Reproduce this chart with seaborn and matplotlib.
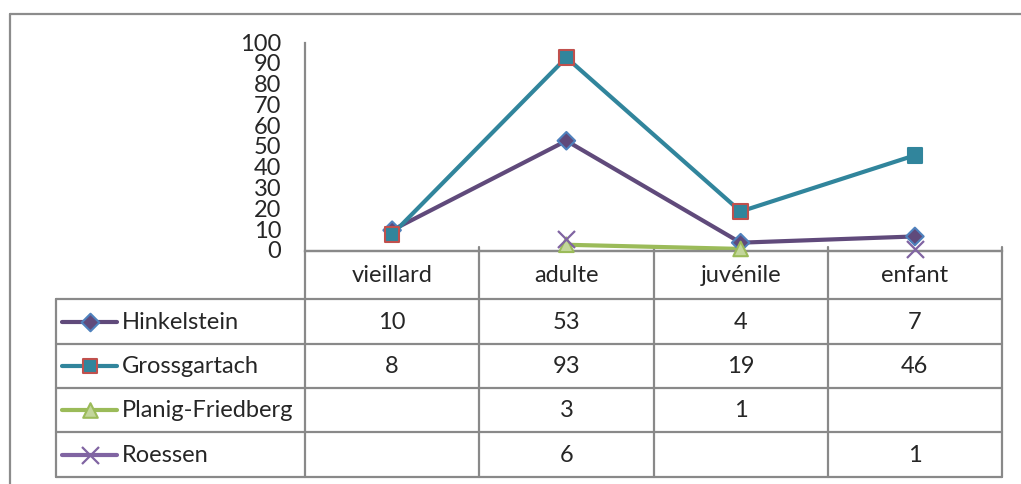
import numpy as np
import pandas as pd
import matplotlib
matplotlib.use("Agg")
import matplotlib.pyplot as plt
from matplotlib.lines import Line2D
import seaborn as sns

# data
categories = ["vieillard", "adulte", "juvénile", "enfant"]
hinkelstein = [10, 53, 4, 7]
grossgartach = [8, 93, 19, 46]
planig = [np.nan, 3, 1, np.nan]
roessen = [np.nan, 6, np.nan, 1]

series_names = ["Hinkelstein", "Grossgartach", "Planig-Friedberg", "Roessen"]
series_vals = [hinkelstein, grossgartach, planig, roessen]

# styling per series
line_colors = ["#604A7B", "#31859C", "#9BBB59", "#8064A2"]
markers = ["D", "s", "^", "x"]
face_colors = ["#604A7B", "#31859C", "#C3D69B", "#8064A2"]
edge_colors = [
    ["#4F81BD"] * 4,
    ["#C0504D", "#C0504D", "#C0504D", "#31859C"],
    ["#9BBB59"] * 4,
    ["#8064A2"] * 4,
]
draw_line = [True, True, True, False]
marker_sizes = [80, 110, 110, 150]

sns.set_style("white")
plt.rcParams["font.family"] = ["Lato", "DejaVu Sans"]
FS = 17
LW = 3.0
GRID = "#898989"

W, H = 1021, 485
fig = plt.figure(figsize=(W / 100, H / 100), dpi=100)

# pixel layout
ax_l, ax_r, ax_top, ax_bot = 305, 1002, 44, 252
tab_l = 56
row_edges = [252, 300, 345, 389, 433, 478]

ax = fig.add_axes([ax_l / W, 1 - ax_bot / H, (ax_r - ax_l) / W, (ax_bot - ax_top) / H])
ax.set_facecolor("none")
ax.set_zorder(3)

x_idx = np.arange(len(categories))
for name, vals, lc, mk, fc, ec, dl, ms in zip(series_names, series_vals, line_colors,
                                               markers, face_colors, edge_colors,
                                               draw_line, marker_sizes):
    df = pd.DataFrame({"x": x_idx, "y": vals})
    if dl:
        # draw contiguous runs only (Excel leaves gaps)
        run_id = df["y"].isna().cumsum()
        for _, run in df[df["y"].notna()].groupby(run_id[df["y"].notna()]):
            if len(run) > 1:
                sns.lineplot(data=run, x="x", y="y", ax=ax, color=lc, linewidth=LW,
                             sort=False, legend=False)
    ok = df["y"].notna().values
    if mk == "x":
        ax.scatter(df["x"][ok], df["y"][ok], marker="x", s=ms, c=fc, linewidths=1.6, zorder=4)
    else:
        ax.scatter(df["x"][ok], df["y"][ok], marker=mk, s=ms, c=fc,
                   edgecolors=np.array(ec)[ok], linewidths=1.5, zorder=4)

ax.set_xlim(-0.5, len(categories) - 0.5)
ax.set_ylim(0, 100)
ax.set_yticks(range(0, 101, 10))
ax.set_xticks([])
ax.set_xlabel("")
ax.set_ylabel("")
ax.tick_params(axis="y", length=0, pad=17, labelsize=FS)
for lbl in ax.get_yticklabels():
    lbl.set_verticalalignment("center")
for s in ["top", "right"]:
    ax.spines[s].set_visible(False)
for s in ["left", "bottom"]:
    ax.spines[s].set_color(GRID)
    ax.spines[s].set_linewidth(1.6)
ax.margins(0)
for l in ax.get_lines():
    l.set_clip_on(False)
for c in ax.collections:
    c.set_clip_on(False)

# overlay in pixel coordinates for frame and data table
ov = fig.add_axes([0, 0, 1, 1])
ov.set_xlim(0, W)
ov.set_ylim(H, 0)
ov.axis("off")
ov.set_zorder(1)

# outer chart frame
ov.plot([10, 10], [15, H], color="#8C8C8C", lw=1.6)
ov.plot([10, W], [15, 15], color="#8C8C8C", lw=1.6)

col_w = (ax_r - ax_l) / len(categories)
col_edges = [ax_l + i * col_w for i in range(len(categories) + 1)]

# horizontal table lines
for i, y in enumerate(row_edges):
    x0 = ax_l if i == 0 else tab_l
    ov.plot([x0, ax_r], [y, y], color=GRID, lw=1.6)
# vertical table lines
ov.plot([tab_l, tab_l], [row_edges[1], row_edges[-1]], color=GRID, lw=1.6)
for j, x in enumerate(col_edges):
    top = ax_bot if j == 0 else ax_bot - 4
    ov.plot([x, x], [top, row_edges[-1]], color=GRID, lw=1.6)

# header
for j, cat in enumerate(categories):
    ov.text(col_edges[j] + col_w / 2, (row_edges[0] + row_edges[1]) / 2, cat,
            ha="center", va="center", fontsize=FS)

# rows
for i, (name, vals) in enumerate(zip(series_names, series_vals)):
    yc = (row_edges[i + 1] + row_edges[i + 2]) / 2
    ov.add_line(Line2D([62, 117], [yc, yc], color=line_colors[i], lw=LW,
                       solid_capstyle="round"))
    if markers[i] == "x":
        ov.scatter([89.5], [yc], marker="x", s=marker_sizes[i], c=face_colors[i],
                   linewidths=1.6, zorder=4)
    else:
        ov.scatter([89.5], [yc], marker=markers[i], s=marker_sizes[i], c=face_colors[i],
                   edgecolors=edge_colors[i][0], linewidths=1.5, zorder=4)
    ov.text(122, yc, name, ha="left", va="center", fontsize=FS)
    for j, v in enumerate(vals):
        if not np.isnan(v):
            ov.text(col_edges[j] + col_w / 2, yc, f"{v:g}", ha="center", va="center",
                    fontsize=FS)

fig.savefig("out.png", dpi=100)
